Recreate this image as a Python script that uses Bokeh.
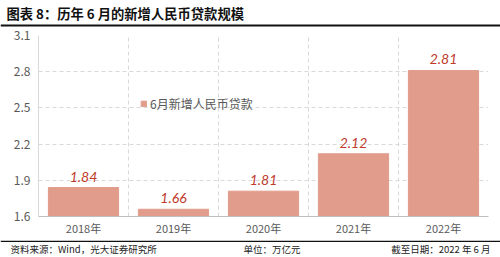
from bokeh.plotting import figure
from bokeh.layouts import column, row
from bokeh.models import Range1d, FixedTicker, Legend, LegendItem, ColumnDataSource
from bokeh.core.properties import value
from bokeh.embed import file_html
from bokeh.resources import INLINE

categories = ["2018年", "2019年", "2020年", "2021年", "2022年"]
values = [1.84, 1.66, 1.81, 2.12, 2.81]
value_labels = ["1.84", "1.66", "1.81", "2.12", "2.81"]
y_ticks = [1.6, 1.9, 2.2, 2.5, 2.8, 3.1]
series_name = "6月新增人民币贷款"
title_text = "图表 8：历年 6 月的新增人民币贷款规模"
source_text = "资料来源：Wind，光大证券研究所"
unit_text = "单位：万亿元"
date_text = "截至日期：2022 年 6 月"

FONT = "Noto Sans CJK SC"
BAR = "#E19C8C"
LAB = "#C0392B"
GREY = "#595959"

W = 500
TH, MH, FH = 27, 213, 17


def strip(height):
    fig = figure(width=W, height=height, output_backend="svg", toolbar_location=None,
                 x_range=Range1d(0, W), y_range=Range1d(height, 0),
                 x_axis_location=None, y_axis_location=None,
                 min_border_left=0, min_border_right=0, min_border_top=0, min_border_bottom=0)
    fig.grid.visible = False
    fig.outline_line_color = None
    return fig


# ---- title strip ----
t = strip(TH)
t.text(x=[6], y=[12.5], text=[title_text], text_font=value(FONT), text_font_size="13.3px",
       text_font_style="bold", text_color="#111111", text_baseline="middle")
t.segment(x0=[0], y0=[25], x1=[W], y1=[25], line_color="#111111", line_width=2)

# ---- main chart ----
n = len(categories)
xs = list(range(n))
src = ColumnDataSource(dict(x=xs, top=values, lab=value_labels))

p = figure(width=W, height=MH, output_backend="svg", toolbar_location=None,
           x_range=Range1d(-0.5, n - 0.5), y_range=Range1d(y_ticks[0], y_ticks[-1]),
           min_border_left=38, min_border_right=12, min_border_top=8,
           min_border_bottom=24)
p.outline_line_color = None
p.background_fill_color = "white"

r = p.vbar(x="x", top="top", bottom=y_ticks[0], width=0.78, color=BAR, source=src)
p.text(x="x", y="top", text="lab", source=src, text_align="center", text_baseline="bottom",
       y_offset=-6, text_font_size="14px", text_font_style="italic", text_color=LAB,
       text_font=value("Lato"))

p.yaxis.ticker = FixedTicker(ticks=y_ticks)
p.yaxis.major_label_overrides = {tk: f"{tk:.1f}" for tk in y_ticks}
p.yaxis.axis_line_color = "#D9D9D9"
p.yaxis.major_tick_line_color = None
p.yaxis.major_tick_out = 0
p.yaxis.minor_tick_line_color = None
p.yaxis.major_label_text_font = FONT
p.yaxis.major_label_text_font_size = "12px"
p.yaxis.major_label_text_color = GREY
p.yaxis.major_label_standoff = 8

p.xaxis.ticker = FixedTicker(ticks=xs)
p.xaxis.major_label_overrides = {i: c for i, c in enumerate(categories)}
p.xaxis.axis_line_color = "#BFBFBF"
p.xaxis.major_tick_line_color = None
p.xaxis.major_tick_out = 0
p.xaxis.minor_tick_line_color = None
p.xaxis.major_label_text_font = FONT
p.xaxis.major_label_text_font_size = "11px"
p.xaxis.major_label_text_color = GREY
p.xaxis.major_label_standoff = 3

p.ygrid.ticker = FixedTicker(ticks=y_ticks[1:])
p.ygrid.grid_line_color = "#D9D9D9"
p.ygrid.grid_line_dash = "4 3"
p.xgrid.ticker = FixedTicker(ticks=[i + 0.5 for i in range(n - 1)])
p.xgrid.grid_line_color = "#D9D9D9"
p.xgrid.grid_line_dash = "4 3"

legend = Legend(items=[LegendItem(label=series_name, renderers=[r])], location=(102, 104),
                background_fill_alpha=0, border_line_color=None, glyph_width=7, glyph_height=7,
                label_text_font=FONT, label_text_font_size="12px", label_text_color=GREY,
                label_standoff=3, padding=2, margin=0)
p.add_layout(legend, "center")

# ---- footer strip ----
f = strip(FH)
f.segment(x0=[0], y0=[0.8], x1=[W], y1=[0.8], line_color="#111111", line_width=1.5)
f.text(x=[10, 243], y=[8.5, 8.5], text=[source_text, unit_text], text_font=value(FONT),
       text_font_size="9.5px", text_color="#222222", text_baseline="middle")
f.text(x=[490], y=[8.5], text=[date_text], text_font=value(FONT), text_font_size="9.5px",
       text_color="#222222", text_baseline="middle", text_align="right")

layout = column(row(t), row(p), row(f), spacing=0)
open("out.html", "w").write(file_html(layout, INLINE))
